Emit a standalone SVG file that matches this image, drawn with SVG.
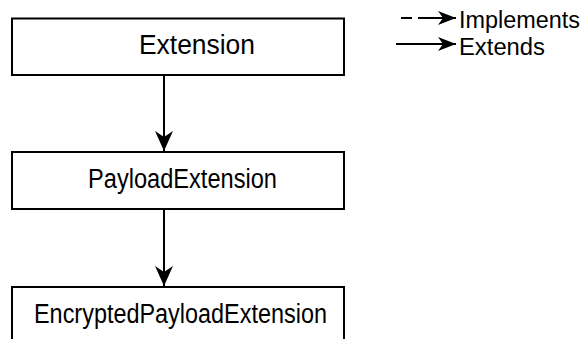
<svg xmlns="http://www.w3.org/2000/svg" width="582" height="339" viewBox="0 0 582 339">
  <style>
    .box { fill: #ffffff; stroke: #000000; stroke-width: 2; }
    .label { font-family: "Liberation Sans", Arial, sans-serif; font-size: 27px; fill: #000000; }
    .legend { font-family: "Liberation Sans", Arial, sans-serif; font-size: 23px; fill: #000000; }
    .edge { stroke: #000000; stroke-width: 2; fill: none; }
  </style>
  <defs>
    <marker id="head" viewBox="0 0 20 18" refX="20" refY="9" markerWidth="20" markerHeight="18" markerUnits="userSpaceOnUse" orient="auto">
      <path d="M0,0 L20,9 L0,18 L6,9 Z" fill="#000000"/>
    </marker>
    <marker id="head-small" viewBox="0 0 18 14" refX="18" refY="7" markerWidth="18" markerHeight="14" markerUnits="userSpaceOnUse" orient="auto">
      <path d="M0,0 L18,7 L0,14 L5,7 Z" fill="#000000"/>
    </marker>
  </defs>
  <rect width="582" height="339" fill="#ffffff"/>

  <g id="connectors">
    <line class="edge" x1="164" y1="76" x2="164" y2="151" marker-end="url(#head)"/>
    <line class="edge" x1="164" y1="210" x2="164" y2="286" marker-end="url(#head)"/>
  </g>

  <g id="node-extension">
    <rect class="box" x="12" y="18.5" width="332" height="56.5"/>
    <text class="label" x="139" y="54" textLength="116" lengthAdjust="spacingAndGlyphs">Extension</text>
  </g>

  <g id="node-payload">
    <rect class="box" x="12" y="152" width="332" height="57"/>
    <text class="label" x="88" y="188" textLength="189" lengthAdjust="spacingAndGlyphs">PayloadExtension</text>
  </g>

  <g id="node-encrypted">
    <rect class="box" x="12" y="287" width="332" height="60"/>
    <text class="label" x="34" y="323" textLength="293" lengthAdjust="spacingAndGlyphs">EncryptedPayloadExtension</text>
  </g>

  <g id="legend">
    <line class="edge" x1="401" y1="18" x2="412" y2="18"/>
    <line class="edge" x1="418" y1="18" x2="456" y2="18" marker-end="url(#head-small)"/>
    <line class="edge" x1="396" y1="44" x2="456" y2="44" marker-end="url(#head-small)"/>
    <text class="legend" x="459" y="28" textLength="121" lengthAdjust="spacingAndGlyphs">Implements</text>
    <text class="legend" x="459" y="55" textLength="86" lengthAdjust="spacingAndGlyphs">Extends</text>
  </g>
</svg>
